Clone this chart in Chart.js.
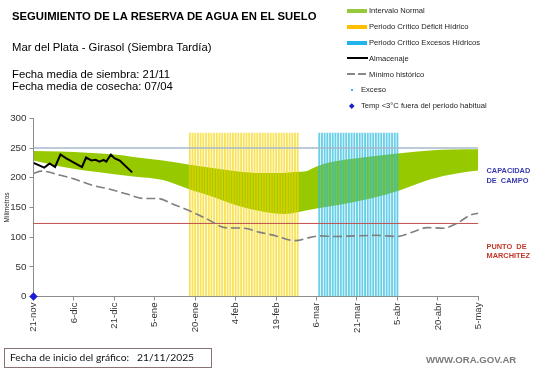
<!DOCTYPE html>
<html>
<head>
<meta charset="utf-8">
<script src="https://cdn.jsdelivr.net/npm/chart.js@4.4.1/dist/chart.umd.min.js"></script>
<style>
  html, body { margin:0; padding:0; background:#fff; }
  #wrap { position:relative; width:541px; height:368px; overflow:hidden; }
  canvas { position:absolute; left:0; top:0; }
  .t { position:absolute; white-space:pre; line-height:1; font-family:"Liberation Sans", Arial, sans-serif; color:#000; }
  .lg { font-size:7.6px; color:#222; }
  .sw { position:absolute; }
</style>
</head>
<body>
<div id="wrap">
  <canvas id="c" width="541" height="368"></canvas>

  <div class="t" style="left:12px;top:10.7px;font-size:11.3px;font-weight:bold;">SEGUIMIENTO DE LA RESERVA DE AGUA EN EL SUELO</div>
  <div class="t" style="left:12px;top:41.9px;font-size:11.3px;">Mar del Plata - Girasol (Siembra Tardía)</div>
  <div class="t" style="left:12px;top:69px;font-size:11.3px;">Fecha media de siembra: 21/11</div>
  <div class="t" style="left:12px;top:80.8px;font-size:11.3px;">Fecha media de cosecha: 07/04</div>

  <!-- legend -->
  <div class="sw" style="left:347px;top:9px;width:20px;height:4px;background:#97c93d;"></div>
  <div class="t lg" style="left:369px;top:7.3px;">Intervalo Normal</div>
  <div class="sw" style="left:347px;top:24.8px;width:20px;height:4px;background:#ffc000;"></div>
  <div class="t lg" style="left:369px;top:23.1px;">Periodo Crítico Déficit Hídrico</div>
  <div class="sw" style="left:347px;top:40.6px;width:20px;height:4px;background:#1fb5ea;"></div>
  <div class="t lg" style="left:369px;top:38.9px;">Periodo Crítico Excesos Hídricos</div>
  <div class="sw" style="left:347px;top:57.4px;width:21px;height:2px;background:#000;"></div>
  <div class="t lg" style="left:369px;top:54.7px;">Almacenaje</div>
  <div class="sw" style="left:347px;top:73.4px;width:8px;height:1.5px;background:#888;"></div>
  <div class="sw" style="left:358px;top:73.4px;width:8px;height:1.5px;background:#888;"></div>
  <div class="t lg" style="left:369px;top:70.5px;">Mínimo histórico</div>
  <div class="sw" style="left:351px;top:89px;width:2px;height:2px;background:#33bbee;"></div>
  <div class="t lg" style="left:361px;top:86.3px;">Exceso</div>
  <div class="sw" style="left:350px;top:104px;width:3.5px;height:3.5px;background:#1c1cc8;transform:rotate(45deg);"></div>
  <div class="t lg" style="left:361px;top:102.1px;">Temp &lt;3°C fuera del periodo habitual</div>

  <!-- side labels -->
  <div class="t" style="left:486.5px;top:166.3px;font-size:7.4px;font-weight:bold;color:#3a3ab0;line-height:9.4px;">CAPACIDAD
DE  CAMPO</div>
  <div class="t" style="left:486.5px;top:243.3px;font-size:7.4px;font-weight:bold;color:#c0392b;line-height:8.4px;">PUNTO  DE
MARCHITEZ</div>

  <!-- bottom -->
  <div style="position:absolute;left:3.5px;top:347.5px;width:206px;height:18px;border:1px solid #8a7272;"></div>
  <div class="t" style="left:10px;top:351.6px;font-size:10.3px;font-family:Lato, 'Open Sans', sans-serif;color:#111;">Fecha de inicio del gráfico:   21/11/2025</div>
  <div class="t" style="left:426px;top:354.8px;font-size:9.6px;font-weight:bold;color:#7a7a7a;">WWW.ORA.GOV.AR</div>
</div>

<script>
// ---- data ----
const tickLabels = ['21-nov','6-dic','21-dic','5-ene','20-ene','4-feb','19-feb','6-mar','21-mar','5-abr','20-abr','5-may'];

const upperDays = [0,10,20,30,37,48,58,67,75,85,92,98,101,105,110,122,136,147,155,165];
const upperVals = [245,244,242,239,235,229,222,216,211,208,208,210,211,219,226,234,241,246,247.5,248];

const lowerDays = [0,10,23,37,48,58,67,75,85,93,98,105,113,125,136,147,157,165];
const lowerVals = [229,219,210,202,196,180,167,154,143,139,142,148,154,165,179,197,207,212];

const minDays = [0,3,10,15,22,28,35,41,46,52,59,65,71,78,84,90,97,103,106,112,119,127,135,141,146,152,157,162,165];
const minVals = [207,211,204,198,187,181,172,165,165,155,142,129,116,115,108,102,94,100,102,101,102,103,101,109,116,115,123,137,140];

const almDays = [0,4,6,8,10,12,18,19.5,21.5,23,24.5,26,27,28.7,30,32,36.6];
const almVals = [225,217,224,218,239,233,218,234,229,230,227,230,227,239,233,229,209];

const deficitDays = [58,59,60,61,62,63,64,65,66,67,68,69,70,71,72,73,74,75,76,77,78,79,80,81,82,83,84,85,86,87,88,89,90,91,92,93,94,95,96,97,98];
const excessDays = [106,107,108,109,110,111,112,113,114,115,116,117,118,119,120,121,122,123,124,125,126,127,128,129,130,131,132,133,134,135];
const periodHeight = 275;

const capacidadCampo = 250;
const puntoMarchitez = 123;
const tempDays = [0];
const tempVals = [0];
const lastDay = 165;

// ---- build ----
const pts = (xs, ys) => xs.map((x, i) => ({x, y: ys[i]}));
const flat = (xs, v) => xs.map(x => ({x, y: v}));

new Chart(document.getElementById('c'), {
  type: 'line',
  data: {
    datasets: [
      { data: pts(upperDays, upperVals), borderWidth: 0, pointRadius: 0, backgroundColor: '#97c900',
        fill: '+1', cubicInterpolationMode: 'monotone', order: 10 },
      { data: pts(lowerDays, lowerVals), borderWidth: 0, pointRadius: 0, fill: false,
        cubicInterpolationMode: 'monotone', order: 10 },
      { type: 'bar', data: flat(deficitDays, periodHeight), backgroundColor: 'rgba(245,212,0,0.65)',
        barThickness: 1.2, grouped: false, order: 5 },
      { type: 'bar', data: flat(excessDays, periodHeight), backgroundColor: 'rgba(40,186,222,0.7)',
        barThickness: 1.2, grouped: false, order: 5 },
      { data: flat([0, lastDay], capacidadCampo), borderColor: '#a7b9cc', borderWidth: 1.6, pointRadius: 0, order: 2 },
      { data: flat([0, lastDay], puntoMarchitez), borderColor: '#c0504d', borderWidth: 1, pointRadius: 0, order: 2 },
      { data: pts(minDays, minVals), borderColor: '#7f7f7f', borderWidth: 1.6, borderDash: [9,4],
        pointRadius: 0, cubicInterpolationMode: 'monotone', order: 1 },
      { data: pts(almDays, almVals), borderColor: '#000', borderWidth: 2, pointRadius: 0, tension: 0, order: 1 },
      { data: pts(tempDays, tempVals), showLine: false, pointStyle: 'rectRot', pointRadius: 4.2,
        backgroundColor: '#1c1cd8', borderColor: '#1c1cd8', borderWidth: 0, clip: false, order: 0 }
    ]
  },
  options: {
    responsive: false,
    animation: false,
    devicePixelRatio: 1,
    layout: { padding: { left: 0, right: 62.7, top: 118.3, bottom: 31.5 } },
    plugins: { legend: { display: false }, tooltip: { enabled: false } },
    scales: {
      x: {
        type: 'linear', min: 0, max: lastDay, offset: false,
        afterFit: s => { s.height = 40; },
        grid: { drawOnChartArea: false, drawTicks: true, tickLength: 4, color: '#8c8c8c', offset: false },
        border: { color: '#8c8c8c', width: 1 },
        ticks: {
          stepSize: 15, autoSkip: false, minRotation: 90, maxRotation: 90, padding: 2,
          color: '#333', font: { family: 'Liberation Sans', size: 9.6 },
          callback: v => tickLabels[Math.round(v / 15)] ?? ''
        }
      },
      y: {
        min: 0, max: 300,
        afterFit: s => { s.width = 33.5; },
        grid: { drawOnChartArea: false, drawTicks: true, tickLength: 4, color: '#8c8c8c' },
        border: { color: '#8c8c8c', width: 1 },
        ticks: { stepSize: 50, padding: 3, color: '#333', font: { family: 'Liberation Sans', size: 9.8 } },
        title: { display: true, text: 'Milímetros', color: '#222', padding: { top: 3, bottom: 0 },
          font: { family: 'Liberation Sans', size: 6.5 } }
      }
    }
  }
});
</script>
</body>
</html>
